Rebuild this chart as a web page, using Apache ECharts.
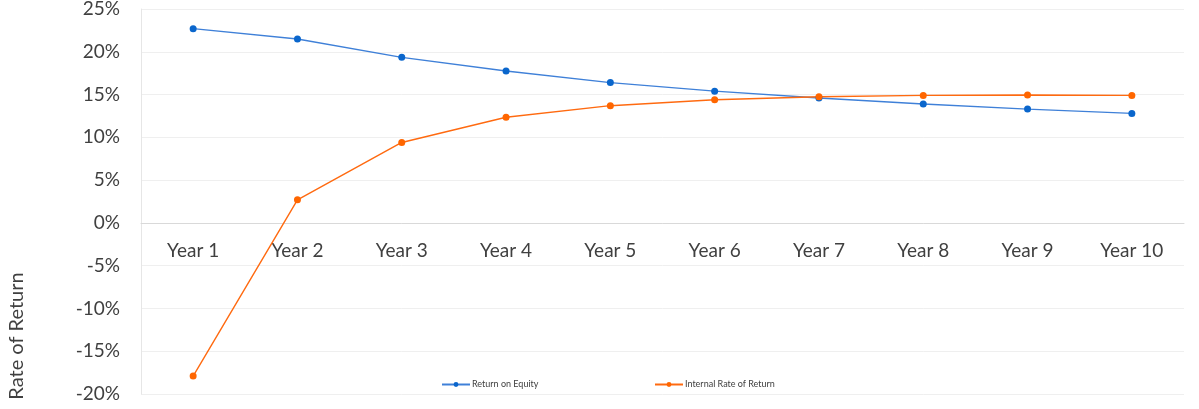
<!DOCTYPE html>
<html>
<head>
<meta charset="utf-8">
<script src="https://cdn.jsdelivr.net/npm/echarts@6/dist/echarts.min.js"></script>
<style>
html,body{margin:0;padding:0;background:#fff;}
#c{width:1199px;height:409px;}
</style>
</head>
<body>
<div id="c"></div>
<script>
const categories = ['Year 1','Year 2','Year 3','Year 4','Year 5','Year 6','Year 7','Year 8','Year 9','Year 10'];
const returnOnEquity = [22.7, 21.5, 19.35, 17.75, 16.4, 15.4, 14.6, 13.9, 13.3, 12.8];
const internalRateOfReturn = [-17.9, 2.7, 9.4, 12.35, 13.7, 14.4, 14.75, 14.9, 14.95, 14.9];
const seriesNames = ['Return on Equity', 'Internal Rate of Return'];
const yAxisTitle = 'Rate of Return';

const font = 'Lato, "Open Sans", sans-serif';
const chart = echarts.init(document.getElementById('c'));
const gridBottom = 15;
chart.setOption({
  animation: false,
  backgroundColor: '#ffffff',
  grid: {left: 141, right: 15, top: 9, bottom: gridBottom, containLabel: false, outerBoundsMode: 'none'},
  legend: [
    {data: [seriesNames[0]], left: 436, top: 375, itemWidth: 28, itemHeight: 6, itemGap: 2,
     textStyle: {fontSize: 9, color: '#404040', fontFamily: font, padding: [0,0,0,-3]}},
    {data: [seriesNames[1]], left: 649, top: 375, itemWidth: 28, itemHeight: 6, itemGap: 2,
     textStyle: {fontSize: 9, color: '#404040', fontFamily: font, padding: [0,0,0,-3]}}
  ],
  graphic: [{
    type: 'text', x: 17, y: 336, rotation: Math.PI / 2,
    style: {text: yAxisTitle, fontSize: 20, fill: '#404040', fontFamily: font,
            textAlign: 'center', textVerticalAlign: 'middle'}
  }],
  xAxis: {
    type: 'category', data: categories, boundaryGap: true,
    axisLine: {onZero: false, lineStyle: {color: '#d9d9d9', width: 1}},
    axisTick: {show: false},
    axisLabel: {fontSize: 19, color: '#404040', fontFamily: font, margin: 18},
    splitLine: {show: false}
  },
  yAxis: {
    type: 'value', min: -20, max: 25, interval: 5,
    axisLine: {show: true, lineStyle: {color: '#e6e6e6'}},
    axisTick: {show: false},
    axisLabel: {fontSize: 19, color: '#404040', fontFamily: font, margin: 21,
                formatter: v => v + '%'},
    splitLine: {lineStyle: {color: '#efefef', width: 1}}
  },
  series: [
    {name: seriesNames[0], type: 'line', data: returnOnEquity, symbol: 'circle', symbolSize: 7,
     lineStyle: {color: '#3f80d8', width: 1.4}, itemStyle: {color: '#0a66cc'}},
    {name: seriesNames[1], type: 'line', data: internalRateOfReturn, symbol: 'circle', symbolSize: 7,
     lineStyle: {color: '#ff6a10', width: 1.4}, itemStyle: {color: '#ff6600'}}
  ]
});
// move the category axis (line + labels) to the zero value line
const zeroY = chart.convertToPixel({yAxisIndex: 0}, 0);
const minY = chart.convertToPixel({yAxisIndex: 0}, -20);
chart.setOption({xAxis: {offset: zeroY - minY}});
</script>
</body>
</html>
